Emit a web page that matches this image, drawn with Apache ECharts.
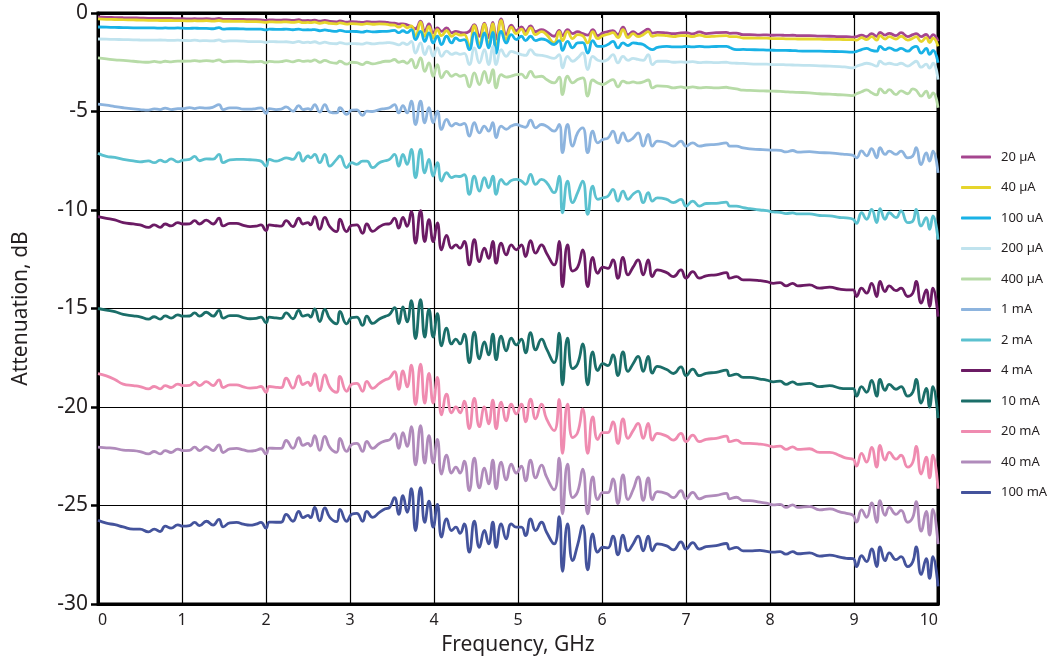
<!DOCTYPE html>
<html><head><meta charset="utf-8">
<script src="https://cdn.jsdelivr.net/npm/echarts@6/dist/echarts.min.js"></script>
<style>html,body{margin:0;padding:0;background:#fff}#c{width:1052px;height:664px}</style>
</head><body><div id="c"></div>
<script>
const freq = [
0,0.1,0.2,0.3,0.42,0.5,0.6,0.67,0.74,0.8,
0.87,0.95,1.01,1.09,1.15,1.21,1.29,1.37,1.44,1.49,
1.57,1.65,1.73,1.81,1.88,1.94,2.0,2.04,2.12,2.18,
2.24,2.32,2.39,2.44,2.5,2.53,2.58,2.64,2.7,2.76,
2.84,2.88,2.96,3.02,3.08,3.15,3.2,3.27,3.35,3.42,
3.47,3.53,3.58,3.63,3.68,3.73,3.78,3.84,3.89,3.94,
3.99,4.04,4.09,4.15,4.21,4.26,4.31,4.36,4.42,4.48,
4.54,4.6,4.65,4.7,4.74,4.8,4.86,4.92,4.98,5.04,
5.09,5.15,5.21,5.28,5.34,5.43,5.49,5.53,5.59,5.65,
5.71,5.77,5.83,5.89,5.95,6.01,6.07,6.13,6.19,6.25,
6.31,6.37,6.43,6.49,6.55,6.6,6.66,6.77,6.85,6.94,
7.0,7.08,7.16,7.24,7.36,7.48,7.52,7.6,7.68,7.76,
7.88,7.96,8.04,8.12,8.19,8.27,8.33,8.47,8.59,8.71,
8.83,8.91,8.99,9.03,9.09,9.15,9.21,9.27,9.31,9.37,
9.42,9.5,9.56,9.64,9.7,9.74,9.8,9.86,9.9,9.94,
10];

const uA20 = [
-0.2,-0.22,-0.23,-0.24,-0.25,-0.26,-0.27,-0.27,-0.28,-0.28,
-0.28,-0.29,-0.29,-0.3,-0.29,-0.3,-0.29,-0.31,-0.28,-0.32,
-0.32,-0.33,-0.33,-0.34,-0.34,-0.35,-0.38,-0.35,-0.36,-0.36,
-0.35,-0.38,-0.34,-0.39,-0.38,-0.39,-0.36,-0.42,-0.38,-0.43,
-0.45,-0.4,-0.46,-0.44,-0.45,-0.48,-0.44,-0.47,-0.45,-0.46,
-0.5,-0.52,-0.56,-0.55,-0.6,-0.68,-0.8,-0.42,-0.93,-0.55,
-1.01,-0.76,-0.93,-0.76,-1.01,-0.93,-0.98,-1.01,-0.93,-0.59,
-1.18,-0.51,-1.25,-0.48,-1.32,-0.3,-1.1,-0.62,-0.9,-0.7,
-0.93,-0.66,-0.95,-0.85,-0.95,-1.18,-0.88,-1.15,-0.85,-1.05,
-0.95,-1.05,-1.12,-0.85,-1.15,-1.01,-0.95,-0.9,-1.1,-0.72,
-1.1,-0.95,-1.08,-0.95,-0.82,-1.02,-0.98,-1.01,-1.05,-1.01,
-1.0,-1.06,-0.96,-1.05,-1.0,-0.98,-1.03,-1.02,-1.1,-1.1,
-1.12,-1.11,-1.13,-1.12,-1.14,-1.13,-1.15,-1.15,-1.17,-1.18,
-1.2,-1.2,-1.22,-1.2,-1.12,-1.2,-1.05,-1.18,-0.98,-1.12,
-1.03,-1.15,-1.0,-1.2,-1.1,-1.05,-1.2,-1.08,-1.28,-1.1,
-1.44];

const uA40 = [
-0.3,-0.32,-0.33,-0.34,-0.35,-0.36,-0.37,-0.37,-0.38,-0.38,
-0.38,-0.39,-0.39,-0.4,-0.39,-0.4,-0.39,-0.41,-0.38,-0.42,
-0.42,-0.43,-0.43,-0.44,-0.44,-0.45,-0.48,-0.45,-0.46,-0.46,
-0.45,-0.48,-0.44,-0.49,-0.48,-0.49,-0.46,-0.52,-0.48,-0.53,
-0.55,-0.5,-0.56,-0.54,-0.55,-0.58,-0.54,-0.57,-0.55,-0.56,
-0.6,-0.62,-0.72,-0.62,-0.75,-0.65,-1.18,-0.47,-1.18,-0.68,
-1.27,-0.85,-1.15,-0.9,-1.18,-1.05,-1.12,-1.1,-1.69,-0.64,
-1.6,-0.56,-1.69,-0.55,-1.86,-0.37,-1.35,-0.72,-1.05,-0.82,
-1.1,-0.76,-1.1,-0.95,-1.1,-1.52,-0.95,-1.4,-0.95,-1.3,
-1.1,-1.15,-1.52,-0.95,-1.3,-1.15,-1.08,-1.0,-1.25,-0.85,
-1.25,-1.05,-1.2,-1.1,-0.95,-1.18,-1.12,-1.15,-1.2,-1.15,
-1.15,-1.2,-1.12,-1.2,-1.17,-1.15,-1.2,-1.2,-1.27,-1.27,
-1.28,-1.28,-1.3,-1.3,-1.31,-1.31,-1.32,-1.32,-1.33,-1.34,
-1.34,-1.35,-1.35,-1.38,-1.25,-1.35,-1.2,-1.38,-1.15,-1.32,
-1.2,-1.32,-1.18,-1.38,-1.28,-1.2,-1.45,-1.25,-1.5,-1.28,
-1.69];

const uA100 = [
-0.71,-0.72,-0.73,-0.74,-0.75,-0.75,-0.76,-0.76,-0.77,-0.76,
-0.77,-0.76,-0.77,-0.78,-0.77,-0.78,-0.78,-0.8,-0.74,-0.82,
-0.8,-0.8,-0.81,-0.82,-0.82,-0.82,-0.86,-0.82,-0.83,-0.83,
-0.82,-0.85,-0.82,-0.86,-0.85,-0.86,-0.84,-0.9,-0.86,-0.9,
-0.93,-0.88,-0.95,-0.93,-0.94,-0.97,-0.92,-0.96,-0.94,-0.93,
-0.92,-0.88,-1.0,-0.9,-1.0,-0.84,-1.35,-0.93,-1.44,-1.01,
-1.52,-1.18,-1.6,-1.18,-1.52,-1.27,-1.4,-1.35,-1.86,-1.01,
-1.77,-1.01,-1.77,-0.98,-2.03,-0.93,-1.52,-1.1,-1.35,-1.18,
-1.4,-1.18,-1.4,-1.32,-1.38,-1.6,-1.4,-1.9,-1.44,-1.77,
-1.52,-1.5,-2.03,-1.4,-1.69,-1.69,-1.6,-1.44,-1.77,-1.52,
-1.65,-1.52,-1.55,-1.6,-1.77,-1.86,-1.75,-1.69,-1.72,-1.72,
-1.7,-1.72,-1.69,-1.72,-1.7,-1.69,-1.75,-1.86,-1.85,-1.86,
-1.87,-1.88,-1.89,-1.9,-1.9,-1.91,-1.92,-1.94,-1.94,-1.95,
-1.96,-1.97,-1.99,-1.95,-1.86,-1.8,-1.9,-1.94,-1.69,-1.86,
-1.77,-1.9,-1.8,-1.94,-1.75,-1.69,-2.03,-1.8,-2.1,-1.9,
-2.53];

const uA200 = [
-1.32,-1.33,-1.34,-1.35,-1.36,-1.37,-1.38,-1.38,-1.37,-1.38,
-1.39,-1.38,-1.39,-1.4,-1.38,-1.41,-1.4,-1.42,-1.36,-1.44,
-1.42,-1.42,-1.43,-1.45,-1.45,-1.45,-1.5,-1.45,-1.46,-1.47,
-1.46,-1.5,-1.44,-1.5,-1.48,-1.5,-1.46,-1.54,-1.48,-1.54,
-1.56,-1.5,-1.57,-1.55,-1.56,-1.58,-1.52,-1.57,-1.53,-1.52,
-1.5,-1.55,-1.62,-1.52,-1.6,-1.44,-2.03,-1.52,-2.11,-1.69,
-2.2,-1.77,-2.2,-1.94,-2.1,-2.03,-2.1,-2.05,-2.62,-1.77,
-2.53,-1.86,-2.62,-1.69,-2.62,-1.86,-2.2,-1.95,-2.03,-2.11,
-2.15,-1.86,-2.11,-2.15,-2.2,-2.3,-2.11,-2.79,-2.2,-2.45,
-2.28,-2.03,-2.87,-2.2,-2.4,-2.45,-2.36,-2.11,-2.53,-2.2,
-2.4,-2.3,-2.36,-2.4,-2.11,-2.62,-2.45,-2.45,-2.5,-2.48,
-2.5,-2.47,-2.52,-2.5,-2.52,-2.5,-2.53,-2.55,-2.56,-2.58,
-2.6,-2.6,-2.62,-2.62,-2.63,-2.64,-2.65,-2.66,-2.68,-2.7,
-2.72,-2.75,-2.79,-2.7,-2.62,-2.55,-2.6,-2.7,-2.45,-2.6,
-2.55,-2.62,-2.55,-2.7,-2.55,-2.45,-2.75,-2.6,-2.8,-2.55,
-3.38];

const uA400 = [
-2.28,-2.33,-2.38,-2.4,-2.45,-2.48,-2.5,-2.46,-2.5,-2.45,
-2.48,-2.44,-2.45,-2.44,-2.42,-2.45,-2.42,-2.45,-2.38,-2.48,
-2.45,-2.44,-2.46,-2.48,-2.47,-2.46,-2.53,-2.46,-2.48,-2.47,
-2.42,-2.48,-2.4,-2.46,-2.43,-2.45,-2.38,-2.5,-2.4,-2.5,
-2.55,-2.45,-2.6,-2.5,-2.52,-2.62,-2.5,-2.58,-2.52,-2.45,
-2.45,-2.36,-2.5,-2.45,-2.55,-2.36,-2.79,-2.28,-2.96,-2.53,
-3.21,-2.62,-3.29,-2.96,-3.21,-3.1,-3.21,-3.15,-3.75,-3.04,
-3.63,-2.96,-3.55,-2.87,-3.8,-3.13,-3.25,-3.2,-3.13,-3.1,
-3.29,-2.96,-3.25,-3.21,-3.38,-3.55,-3.25,-4.14,-3.21,-3.55,
-3.38,-3.29,-4.22,-3.4,-3.55,-3.63,-3.5,-3.38,-3.75,-3.46,
-3.55,-3.5,-3.55,-3.5,-3.4,-3.8,-3.7,-3.72,-3.8,-3.75,
-3.8,-3.75,-3.8,-3.78,-3.8,-3.77,-3.8,-3.85,-3.92,-3.93,
-3.95,-3.96,-3.97,-3.98,-4.0,-4.02,-4.03,-4.05,-4.1,-4.12,
-4.15,-4.17,-4.19,-4.1,-4.0,-3.9,-4.05,-4.15,-3.85,-4.05,
-3.89,-4.14,-3.95,-4.1,-3.85,-3.92,-4.22,-3.97,-4.3,-4.05,
-4.81];

const mA1 = [
-4.63,-4.68,-4.75,-4.81,-4.87,-4.9,-4.93,-4.87,-4.9,-4.83,
-4.9,-4.85,-4.86,-4.8,-4.85,-4.8,-4.83,-4.78,-4.65,-4.9,
-4.82,-4.82,-4.88,-4.88,-4.85,-4.82,-5.1,-4.85,-4.9,-4.88,
-4.77,-4.98,-4.7,-4.9,-4.85,-4.9,-4.65,-5.03,-4.65,-5.03,
-5.07,-4.81,-5.15,-4.93,-4.92,-5.2,-4.98,-5.0,-4.9,-4.85,
-4.81,-4.65,-5.07,-4.7,-5.07,-4.48,-5.66,-4.48,-5.57,-4.81,
-5.57,-4.98,-5.91,-5.4,-5.74,-5.6,-5.68,-5.6,-6.25,-5.57,
-6.08,-5.74,-6.0,-5.57,-6.33,-5.74,-5.9,-5.74,-5.66,-5.74,
-5.8,-5.44,-5.83,-5.66,-5.75,-6.0,-5.66,-7.09,-5.66,-6.76,
-6.08,-5.83,-7.09,-6.0,-6.59,-6.42,-6.35,-6.0,-6.59,-6.08,
-6.5,-6.35,-6.08,-6.76,-6.16,-6.76,-6.5,-6.59,-6.76,-6.5,
-6.76,-6.59,-6.76,-6.7,-6.67,-6.59,-6.76,-6.76,-6.85,-6.9,
-6.93,-6.95,-6.96,-6.97,-7.05,-6.98,-7.06,-7.04,-7.09,-7.1,
-7.15,-7.18,-7.23,-7.35,-7.0,-7.25,-6.89,-7.35,-6.84,-7.18,
-7.01,-7.18,-7.01,-7.35,-7.26,-6.84,-7.69,-7.1,-7.52,-7.01,
-8.11];

const mA2 = [
-7.12,-7.28,-7.33,-7.43,-7.51,-7.56,-7.51,-7.6,-7.47,-7.56,
-7.4,-7.56,-7.47,-7.43,-7.28,-7.5,-7.4,-7.42,-7.18,-7.6,
-7.45,-7.43,-7.43,-7.45,-7.47,-7.52,-7.77,-7.43,-7.52,-7.45,
-7.35,-7.43,-7.09,-7.52,-7.26,-7.35,-7.18,-7.6,-7.18,-7.77,
-7.43,-7.26,-7.85,-7.6,-7.68,-7.52,-7.52,-7.85,-7.6,-7.5,
-7.43,-7.18,-7.77,-7.18,-7.68,-6.93,-8.36,-6.93,-8.11,-7.43,
-8.28,-7.6,-8.53,-8.11,-8.36,-8.28,-8.3,-8.2,-9.21,-8.28,
-9.04,-8.36,-8.87,-8.28,-9.21,-8.45,-8.7,-8.5,-8.45,-8.53,
-8.7,-8.19,-8.7,-8.45,-8.6,-9.12,-8.28,-10.14,-8.53,-9.63,
-9.12,-8.53,-10.22,-8.79,-9.46,-9.38,-9.3,-8.95,-9.55,-9.04,
-9.46,-9.2,-9.04,-9.63,-9.12,-9.55,-9.38,-9.46,-9.63,-9.46,
-9.8,-9.55,-9.8,-9.67,-9.66,-9.6,-9.8,-9.8,-9.88,-9.93,
-10.0,-10.03,-10.1,-10.12,-10.18,-10.15,-10.2,-10.2,-10.28,-10.3,
-10.38,-10.4,-10.47,-10.68,-10.14,-10.47,-9.97,-10.64,-9.93,-10.47,
-10.14,-10.39,-10.05,-10.64,-10.56,-9.97,-10.81,-10.39,-10.98,-10.3,
-11.5];

const mA4 = [
-10.34,-10.42,-10.5,-10.64,-10.71,-10.76,-10.88,-10.76,-10.88,-10.71,
-10.81,-10.64,-10.71,-10.7,-10.54,-10.71,-10.51,-10.71,-10.42,-10.81,
-10.68,-10.68,-10.78,-10.84,-10.82,-10.76,-11.05,-10.76,-10.8,-10.82,
-10.54,-10.84,-10.42,-10.71,-10.64,-10.76,-10.34,-10.98,-10.37,-10.84,
-11.1,-10.47,-11.1,-10.78,-10.76,-11.18,-10.71,-11.08,-10.85,-10.72,
-10.7,-10.41,-10.92,-10.37,-10.83,-10.07,-11.68,-10.03,-11.6,-10.49,
-11.6,-10.66,-12.02,-11.29,-11.94,-11.77,-11.94,-11.6,-12.79,-11.51,
-12.62,-11.94,-12.45,-11.6,-12.7,-11.68,-12.28,-11.77,-12.02,-11.77,
-12.36,-11.56,-12.19,-11.77,-12.19,-12.79,-11.6,-13.89,-11.77,-13.1,
-12.9,-12.02,-13.89,-12.4,-13.21,-12.9,-12.96,-12.53,-13.47,-12.4,
-13.29,-12.9,-12.53,-13.29,-12.53,-13.38,-13.04,-13.18,-13.38,-13.04,
-13.46,-13.13,-13.46,-13.34,-13.29,-13.18,-13.46,-13.38,-13.55,-13.55,
-13.58,-13.63,-13.72,-13.69,-13.85,-13.72,-13.85,-13.8,-13.97,-13.92,
-14.02,-14.05,-14.05,-14.39,-13.97,-14.22,-13.72,-14.39,-13.63,-14.14,
-13.85,-14.09,-13.97,-14.39,-14.22,-13.63,-14.73,-14.05,-14.9,-13.97,
-15.41];

const mA10 = [
-15.0,-15.08,-15.16,-15.3,-15.37,-15.42,-15.54,-15.42,-15.54,-15.37,
-15.49,-15.32,-15.39,-15.38,-15.22,-15.39,-15.19,-15.39,-15.1,-15.49,
-15.36,-15.36,-15.46,-15.52,-15.5,-15.44,-15.73,-15.44,-15.48,-15.5,
-15.22,-15.52,-15.1,-15.39,-15.32,-15.44,-15.02,-15.66,-15.05,-15.52,
-15.78,-15.15,-15.78,-15.46,-15.44,-15.86,-15.39,-15.76,-15.53,-15.4,
-15.3,-14.96,-15.77,-14.92,-15.68,-14.6,-16.53,-14.55,-16.45,-15.04,
-16.45,-15.26,-16.9,-16.0,-16.8,-16.55,-16.8,-16.3,-17.75,-16.2,
-17.55,-16.7,-17.35,-16.3,-17.6,-16.4,-17.15,-16.5,-16.85,-16.55,
-17.25,-16.22,-17.1,-16.55,-17.05,-17.75,-16.25,-18.87,-16.5,-18.05,
-17.8,-16.8,-18.87,-17.2,-18.15,-17.8,-17.9,-17.35,-18.4,-17.2,
-18.19,-17.8,-17.43,-18.19,-17.43,-18.28,-17.94,-18.1,-18.3,-17.96,
-18.41,-18.08,-18.41,-18.29,-18.24,-18.13,-18.41,-18.33,-18.5,-18.5,
-18.58,-18.63,-18.72,-18.69,-18.85,-18.72,-18.85,-18.8,-18.97,-18.92,
-19.04,-19.07,-19.07,-19.45,-18.97,-19.25,-18.65,-19.45,-18.6,-19.15,
-18.85,-19.1,-18.97,-19.45,-19.25,-18.6,-19.8,-19.05,-20.0,-18.97,
-20.56];

const mA20 = [
-18.31,-18.42,-18.6,-18.84,-18.91,-18.96,-19.08,-18.96,-19.08,-18.91,
-19.01,-18.84,-18.91,-18.9,-18.74,-18.91,-18.71,-18.91,-18.62,-19.01,
-18.88,-18.88,-18.98,-19.04,-19.02,-18.96,-19.25,-18.96,-19.0,-19.02,
-18.54,-19.04,-18.42,-18.86,-18.74,-18.91,-18.31,-19.18,-18.37,-18.99,
-19.25,-18.45,-19.2,-18.85,-18.8,-19.2,-18.7,-19.05,-18.8,-18.62,
-18.53,-18.2,-19.1,-18.17,-18.98,-17.87,-19.88,-17.83,-19.8,-18.3,
-19.8,-18.5,-20.4,-19.35,-20.3,-20.0,-20.3,-19.7,-21.1,-19.56,
-21.0,-20.0,-20.85,-19.65,-21.1,-19.75,-20.7,-19.85,-20.35,-19.85,
-20.75,-19.6,-20.6,-19.85,-20.6,-21.2,-19.62,-22.35,-19.85,-21.55,
-21.3,-20.1,-22.35,-20.5,-21.65,-21.3,-21.3,-20.75,-21.85,-20.6,
-21.59,-21.2,-20.83,-21.59,-20.83,-21.68,-21.34,-21.48,-21.68,-21.34,
-21.76,-21.43,-21.76,-21.64,-21.59,-21.48,-21.76,-21.68,-21.85,-21.85,
-21.88,-21.93,-22.02,-21.99,-22.15,-22.02,-22.15,-22.12,-22.3,-22.3,
-22.47,-22.6,-22.65,-23.0,-22.35,-22.8,-22.05,-23.05,-21.95,-22.7,
-22.3,-22.65,-22.45,-23.05,-22.8,-22.0,-23.4,-22.55,-23.6,-22.45,
-24.15];

const mA40 = [
-22.04,-22.07,-22.1,-22.19,-22.21,-22.26,-22.38,-22.26,-22.38,-22.21,
-22.31,-22.14,-22.21,-22.2,-22.04,-22.21,-22.01,-22.21,-21.92,-22.31,
-22.13,-22.1,-22.18,-22.24,-22.2,-22.12,-22.38,-22.09,-22.1,-22.1,
-21.7,-22.1,-21.56,-21.95,-21.85,-21.98,-21.46,-22.2,-21.49,-22.05,
-22.3,-21.6,-22.25,-21.9,-21.85,-22.25,-21.75,-22.1,-21.85,-21.72,
-21.67,-21.35,-22.1,-21.3,-22.0,-21.0,-22.94,-20.95,-22.85,-21.45,
-22.85,-21.65,-23.4,-22.45,-23.35,-23.05,-23.35,-22.75,-24.24,-22.6,
-24.1,-23.1,-23.9,-22.7,-24.15,-22.8,-23.7,-22.9,-23.35,-23.0,
-23.75,-22.7,-23.6,-22.95,-23.55,-24.2,-22.6,-25.42,-22.9,-24.6,
-24.3,-23.15,-25.42,-23.55,-24.7,-24.35,-24.35,-23.65,-24.9,-23.45,
-24.7,-24.2,-23.55,-24.74,-23.6,-24.7,-24.3,-24.4,-24.6,-24.25,
-24.66,-24.33,-24.66,-24.54,-24.49,-24.38,-24.66,-24.58,-24.75,-24.75,
-24.83,-24.88,-24.97,-24.94,-25.1,-24.97,-25.1,-25.05,-25.22,-25.17,
-25.32,-25.4,-25.5,-25.84,-25.22,-25.6,-24.87,-25.85,-24.75,-25.5,
-25.1,-25.45,-25.25,-25.85,-25.6,-24.8,-26.3,-25.3,-26.5,-25.2,
-26.96];

const mA100 = [
-25.75,-25.9,-25.97,-26.09,-26.2,-26.2,-26.34,-26.2,-26.32,-26.05,
-26.15,-25.98,-26.05,-26.02,-25.86,-26.02,-25.8,-26.0,-25.7,-26.08,
-25.88,-25.86,-25.95,-26.0,-25.95,-25.86,-26.15,-25.84,-25.85,-25.85,
-25.45,-25.8,-25.3,-25.62,-25.5,-25.62,-25.1,-25.78,-25.12,-25.6,
-25.82,-25.2,-25.8,-25.45,-25.4,-25.8,-25.3,-25.6,-25.35,-25.17,
-25.1,-24.6,-25.45,-24.5,-25.35,-24.15,-26.27,-24.1,-25.85,-24.78,
-26.1,-24.95,-26.61,-25.68,-26.27,-26.1,-26.41,-25.93,-27.37,-25.8,
-27.12,-26.27,-26.95,-25.85,-27.12,-25.93,-26.69,-25.93,-26.1,-26.1,
-26.53,-25.68,-26.27,-25.85,-26.36,-26.95,-25.56,-28.34,-25.93,-27.8,
-27.0,-26.02,-28.27,-26.44,-27.37,-27.12,-27.15,-26.55,-27.5,-26.5,
-27.3,-26.95,-26.55,-27.3,-26.55,-27.3,-26.95,-27.05,-27.25,-26.85,
-27.21,-26.88,-27.21,-27.09,-27.04,-26.93,-27.21,-27.13,-27.3,-27.3,
-27.28,-27.33,-27.37,-27.34,-27.47,-27.34,-27.45,-27.4,-27.57,-27.52,
-27.62,-27.68,-27.7,-28.1,-27.55,-27.85,-27.2,-28.1,-27.1,-27.8,
-27.4,-27.75,-27.6,-28.1,-27.85,-27.1,-28.5,-27.7,-28.7,-27.6,
-29.1];

const seriesNames = ['20 µA','40 µA','100 uA','200 µA','400 µA','1 mA','2 mA','4 mA','10 mA','20 mA','40 mA','100 mA'];
const seriesValues = [uA20, uA40, uA100, uA200, uA400, mA1, mA2, mA4, mA10, mA20, mA40, mA100];
const seriesColors = ['#a5468f','#e6d52c','#19b2e6','#c0e3ee','#b7dba7','#8db4de','#5bc1cf','#6b1b64','#1b6e69','#ef8bb0','#b08bbb','#44539c'];
const xTicks = [0,1,2,3,4,5,6,7,8,9,10];
const yTicks = [0,-5,-10,-15,-20,-25,-30];

const FONT = '"Noto Sans", "Open Sans", sans-serif';
const TXT = '#231f20';
const chart = echarts.init(document.getElementById('c'), null, {renderer:'canvas'});
chart.setOption({
  animation: false,
  backgroundColor: '#fff',
  textStyle: {fontFamily: FONT, color: TXT},
  grid: {left: 98, right: 114, top: 13, bottom: 60, show: true, borderColor: '#000', borderWidth: 3, backgroundColor: 'transparent'},
  legend: {
    orient: 'vertical', left: 956, top: 145,
    itemWidth: 30, itemHeight: 3, itemGap: 16.5, icon: 'roundRect',
    textStyle: {fontFamily: FONT, fontSize: 13, color: TXT, lineHeight: 14, padding: [0,0,0,5]},
    data: seriesNames
  },
  xAxis: [{
    type: 'value', min: xTicks[0], max: xTicks[xTicks.length-1], interval: 1,
    name: 'Frequency, GHz', nameLocation: 'middle', nameGap: 31,
    nameTextStyle: {fontFamily: FONT, fontSize: 21, color: TXT},
    axisLine: {show: true, onZero: false, lineStyle: {color: '#000', width: 3}},
    axisTick: {show: false},
    axisLabel: {fontFamily: FONT, fontSize: 16, color: TXT, margin: 8, alignMinLabel: 'left', alignMaxLabel: 'right'},
    splitLine: {show: true, lineStyle: {color: '#000', width: 1.2}}
  },{
    type: 'value', position: 'top', min: xTicks[0], max: xTicks[xTicks.length-1], interval: 1,
    axisLine: {show: true, onZero: false, lineStyle: {color: '#000', width: 3}},
    axisTick: {show: true, inside: true, length: 5, lineStyle: {color: '#000', width: 2}},
    axisLabel: {show: false}, splitLine: {show: false}
  }],
  yAxis: [{
    type: 'value', min: yTicks[yTicks.length-1], max: yTicks[0], interval: 5,
    name: 'Attenuation, dB', nameLocation: 'middle', nameGap: 66,
    nameTextStyle: {fontFamily: FONT, fontSize: 21, color: TXT},
    axisLine: {show: true, onZero: false, lineStyle: {color: '#000', width: 3}},
    axisTick: {show: true, length: 7, lineStyle: {color: '#000', width: 2.5}},
    axisLabel: {fontFamily: FONT, fontSize: 21, color: TXT, margin: 10},
    splitLine: {show: true, lineStyle: {color: '#000', width: 1.2}}
  },{
    type: 'value', position: 'right', min: yTicks[yTicks.length-1], max: yTicks[0], interval: 5,
    axisLine: {show: true, onZero: false, lineStyle: {color: '#000', width: 3}},
    axisTick: {show: false}, axisLabel: {show: false}, splitLine: {show: false}
  }],
  series: seriesNames.map((n, k) => ({
    name: n, type: 'line', xAxisIndex: 0, yAxisIndex: 0,
    data: freq.map((f, i) => [f, seriesValues[k][i]]),
    showSymbol: false, smooth: 0.5,
    lineStyle: {color: seriesColors[k], width: 2.8},
    itemStyle: {color: seriesColors[k]},
    clip: true
  }))
});
</script>
</body></html>
